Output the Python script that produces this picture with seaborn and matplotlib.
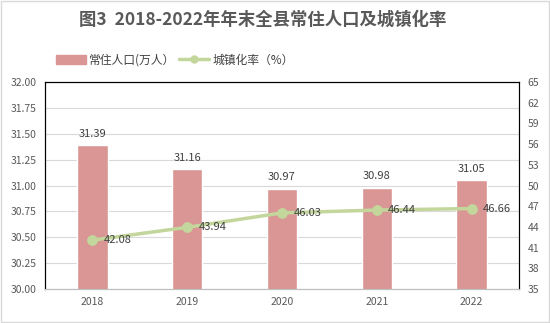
import matplotlib
matplotlib.use("Agg")
import matplotlib.pyplot as plt
import seaborn as sns
import pandas as pd

years = ["2018", "2019", "2020", "2021", "2022"]
population = [31.39, 31.16, 30.97, 30.98, 31.05]
urban_rate = [42.08, 43.94, 46.03, 46.44, 46.66]
left_ticks = [30.00, 30.25, 30.50, 30.75, 31.00, 31.25, 31.50, 31.75, 32.00]
right_ticks = [35, 38, 41, 44, 47, 50, 53, 56, 59, 62, 65]

sns.set_theme(style="white")
plt.rcParams['font.family'] = ['Noto Sans CJK SC', 'DejaVu Sans']

df = pd.DataFrame({"year": years, "pop": population, "rate": urban_rate})

fig = plt.figure(figsize=(5.5, 3.23), dpi=100)
ax = fig.add_axes([45/550, 1-289/323, (519-45)/550, (289-82)/323])

bar_color = "#D99694"
line_color = "#C3D69B"

sns.barplot(data=df, x="year", y="pop", ax=ax, color=bar_color, width=0.32,
            saturation=1, zorder=2)
ax.set_ylim(30, 32)
ax.set_yticks(left_ticks)
ax.set_yticklabels([f"{v:.2f}" for v in left_ticks], fontsize=7.5, color="#595959")
ax.set_xlabel("")
ax.set_ylabel("")
ax.tick_params(axis='x', labelsize=7.5, colors="#595959", length=0, pad=6)
ax.tick_params(axis='y', length=0, pad=6)
ax.grid(axis='y', color="#D9D9D9", linewidth=0.8, zorder=0)
ax.set_axisbelow(True)
for p, v in zip(ax.patches, population):
    ax.text(p.get_x() + p.get_width()/2, v + 0.06, f"{v:.2f}", ha="center",
            va="bottom", fontsize=8, color="#404040")

ax2 = ax.twinx()
sns.lineplot(x=list(range(len(years))), y=urban_rate, ax=ax2, color=line_color,
             linewidth=2.5, marker="o", markersize=7, markeredgecolor=line_color,
             zorder=3)
ax2.set_ylim(35, 65)
ax2.set_yticks(right_ticks)
ax2.set_yticklabels([str(v) for v in right_ticks], fontsize=7.5, color="#595959")
ax2.tick_params(axis='y', length=0, pad=6)
ax2.set_ylabel("")
for i, v in enumerate(urban_rate):
    ax2.text(i + 0.12, v, f"{v:.2f}", ha="left", va="center", fontsize=8,
             color="#404040")

for a in (ax, ax2):
    for s in ["left", "top", "right"]:
        a.spines[s].set_color("black")
        a.spines[s].set_linewidth(0.8)
    a.spines["bottom"].set_color("#BFBFBF")
    a.spines["bottom"].set_linewidth(0.8)
ax.set_xlim(-0.5, 4.5)

fig.text(0.477, 1-20/323, "图3  2018-2022年年末全县常住人口及城镇化率", ha="center",
         va="center", fontsize=12.5, fontweight="bold", color="#595959")

from matplotlib.patches import Patch
from matplotlib.lines import Line2D
handles = [Patch(facecolor=bar_color, edgecolor=bar_color),
           Line2D([0], [0], color=line_color, linewidth=2.5, marker="o",
                  markersize=5)]
fig.legend(handles, ["常住人口(万人）", "城镇化率（%）"], loc="center",
           bbox_to_anchor=(0.318, 1-60/323), ncol=2, frameon=False,
           fontsize=8.5, handlelength=2.5, columnspacing=0.3, handletextpad=0.3,
           labelcolor="#404040")

fig.patches.append(plt.Rectangle((0.001, 0.002), 0.997, 0.996,
                                 transform=fig.transFigure, fill=False,
                                 edgecolor="#D9D9D9", linewidth=1))
fig.savefig("out.png", dpi=100)
